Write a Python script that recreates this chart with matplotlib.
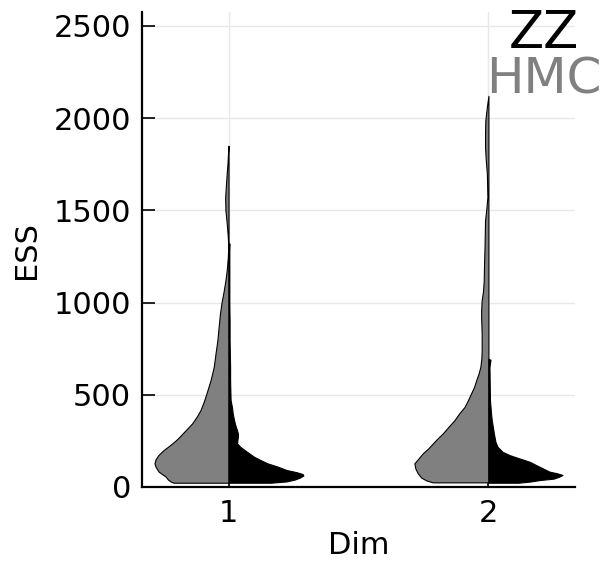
import numpy as np
import matplotlib
matplotlib.use('Agg')
import matplotlib.pyplot as plt

# posicoes das dimensoes
dims = [1, 2]
tick_labels = ['1', '2']

# perfis de densidade (ESS, meia-largura em unidades de "Dim")
hmc_ess_1 = [23, 30, 40, 56, 83, 110, 128, 150, 173, 200, 218, 236, 254, 272, 290, 318, 345,
             380, 417, 460, 507, 580, 651, 725, 795, 870, 940, 1000, 1060, 1120, 1175,
             1240, 1300, 1360, 1430, 1500, 1570, 1640, 1700, 1755, 1810, 1850]
hmc_w_1 = [0.212, 0.223, 0.233, 0.242, 0.269, 0.281, 0.285, 0.281, 0.270, 0.250, 0.233,
           0.217, 0.202, 0.189, 0.177, 0.158, 0.140, 0.123, 0.108, 0.096, 0.085, 0.069,
           0.057, 0.050, 0.043, 0.038, 0.033, 0.027, 0.019, 0.012, 0.007, 0.003, 0.001,
           0.003, 0.007, 0.012, 0.013, 0.010, 0.007, 0.004, 0.002, 0.0]

zz_ess_1 = [23, 30, 40, 50, 62, 70, 80, 92, 110, 128, 146, 164, 182, 200, 218, 236, 254,
            272, 290, 310, 326, 346, 370, 400, 434, 470, 520, 580, 650, 720, 800, 900,
            1000, 1100, 1200, 1280, 1320]
zz_w_1 = [0.162, 0.223, 0.254, 0.273, 0.288, 0.285, 0.262, 0.223, 0.190, 0.150, 0.123,
          0.098, 0.080, 0.062, 0.045, 0.033, 0.034, 0.036, 0.036, 0.032, 0.028, 0.024,
          0.020, 0.016, 0.013, 0.008, 0.007, 0.006, 0.006, 0.005, 0.004, 0.004, 0.003,
          0.003, 0.003, 0.003, 0.004]

hmc_ess_2 = [25, 35, 50, 74, 100, 128, 155, 182, 210, 236, 263, 290, 326, 362, 400, 434,
             470, 507, 540, 579, 615, 651, 700, 741, 800, 832, 880, 921, 958, 1012, 1060,
             1120, 1200, 1300, 1370, 1445, 1510, 1571, 1640, 1699, 1770, 1841, 1920, 1986,
             2060, 2121]
hmc_w_2 = [0.214, 0.238, 0.258, 0.272, 0.281, 0.285, 0.269, 0.253, 0.231, 0.214, 0.196,
           0.176, 0.154, 0.131, 0.112, 0.092, 0.079, 0.067, 0.056, 0.047, 0.038, 0.031,
           0.027, 0.026, 0.026, 0.026, 0.027, 0.028, 0.028, 0.026, 0.021, 0.018, 0.017,
           0.015, 0.014, 0.013, 0.008, 0.004, 0.005, 0.006, 0.010, 0.013, 0.013, 0.012,
           0.006, 0.0]

zz_ess_2 = [23, 29, 38, 45, 55, 65, 75, 83, 110, 137, 155, 173, 191, 218, 245, 290, 326,
            360, 399, 470, 550, 650, 690, 696]
zz_w_2 = [0.115, 0.158, 0.200, 0.250, 0.271, 0.285, 0.262, 0.235, 0.196, 0.158, 0.119,
          0.081, 0.054, 0.035, 0.027, 0.021, 0.017, 0.013, 0.010, 0.006, 0.005, 0.004,
          0.008, 0.0]

hmc = [(hmc_ess_1, hmc_w_1), (hmc_ess_2, hmc_w_2)]
zz = [(zz_ess_1, zz_w_1), (zz_ess_2, zz_w_2)]

cinza = '#808080'

fig = plt.figure(figsize=(6.03, 5.62), dpi=100)
ax = fig.add_axes([0.2355, 0.1335, 0.718, 0.845])

for d, (e, w), (e2, w2) in zip(dims, hmc, zz):
    e = np.array(e); w = np.array(w)
    ax.fill_betweenx(e, d - w, d, facecolor=cinza, edgecolor='black', linewidth=0.8)
    e2 = np.array(e2); w2 = np.array(w2)
    ax.fill_betweenx(e2, d, d + w2, facecolor='black', edgecolor='black', linewidth=0.8)

ax.set_xlim(0.667, 2.333)
ax.set_ylim(0, 2575)
ax.set_xticks(dims)
ax.set_xticklabels(tick_labels)
ax.set_yticks([0, 500, 1000, 1500, 2000, 2500])
ax.grid(True, color='#e8e8e8', linewidth=1)
ax.set_axisbelow(True)

for s in ['top', 'right']:
    ax.spines[s].set_visible(False)
for s in ['left', 'bottom']:
    ax.spines[s].set_linewidth(1.6)

ax.tick_params(direction='in', length=9, width=1.2, labelsize=22, pad=9)
ax.tick_params(axis='y', pad=8)
ax.set_xlabel('Dim', fontsize=22, labelpad=2)
ax.set_ylabel('ESS', fontsize=22, labelpad=9)

ax.text(2.215, 2455, 'ZZ', fontsize=37, color='black', ha='center', va='center')
ax.text(2.215, 2212, 'HMC', fontsize=36, color=cinza, ha='center', va='center', clip_on=False)

fig.savefig('out.png', dpi=100)
